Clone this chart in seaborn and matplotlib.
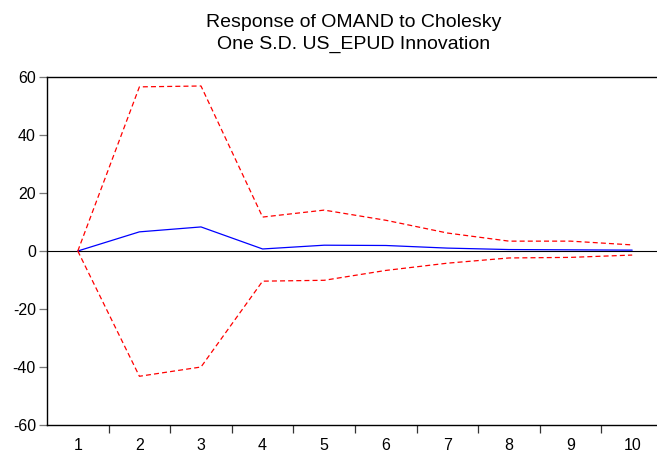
import numpy as np
import pandas as pd
import matplotlib
matplotlib.use("Agg")
import matplotlib.pyplot as plt
import seaborn as sns

# data
periods = [1, 2, 3, 4, 5, 6, 7, 8, 9, 10]
response = [0.0, 6.6, 8.3, 0.7, 2.0, 1.9, 1.0, 0.5, 0.4, 0.3]
upper = [0.0, 56.6, 56.9, 11.7, 14.1, 10.6, 6.2, 3.4, 3.4, 2.1]
lower = [0.0, -43.2, -40.0, -10.4, -10.1, -6.7, -4.2, -2.4, -2.2, -1.4]

df = pd.DataFrame({"period": periods, "response": response,
                   "upper": upper, "lower": lower})

sns.set_style("white")
plt.rcParams["font.family"] = ["Liberation Sans", "DejaVu Sans"]
plt.rcParams["axes.unicode_minus"] = False
plt.rcParams["text.color"] = "black"
plt.rcParams["xtick.color"] = "black"
plt.rcParams["ytick.color"] = "black"

fig = plt.figure(figsize=(6.57, 4.55), dpi=100)
ax = fig.add_axes([47 / 657, 1 - 425 / 455, (663 - 47) / 657, (425 - 77) / 455])

sns.lineplot(data=df, x="period", y="response", ax=ax, color="blue", linewidth=0.9)
sns.lineplot(data=df, x="period", y="upper", ax=ax, color="red", linewidth=0.9, linestyle=(0, (4, 2.5)))
sns.lineplot(data=df, x="period", y="lower", ax=ax, color="red", linewidth=0.9, linestyle=(0, (4, 2.5)))
ax.axhline(0, color="black", linewidth=0.8, zorder=0)

ax.set_xlim(0.5, 10.5)
ax.set_ylim(-60, 60)
ax.set_yticks([-60, -40, -20, 0, 20, 40, 60])
ax.set_xticks(periods)
ax.set_xticks(np.arange(1.5, 10.5, 1), minor=True)
ax.tick_params(axis="x", which="major", bottom=True, length=0, pad=9, labelsize=11.5)
ax.tick_params(axis="x", which="minor", bottom=True, length=6, width=0.9, direction="out", color="#333333")
ax.tick_params(axis="y", left=True, length=6, width=0.9, direction="out", labelsize=11.5, pad=2, color="#777777")
ax.set_xlabel("")
ax.set_ylabel("")
for s in ax.spines.values():
    s.set_color("black")
    s.set_linewidth(1.0)

ax.set_title("Response of OMAND to Cholesky\nOne S.D. US_EPUD Innovation",
             fontsize=14, pad=20, x=(354 - 47) / (663 - 47), linespacing=1.38, color="black")

fig.savefig("out.png", dpi=100)
